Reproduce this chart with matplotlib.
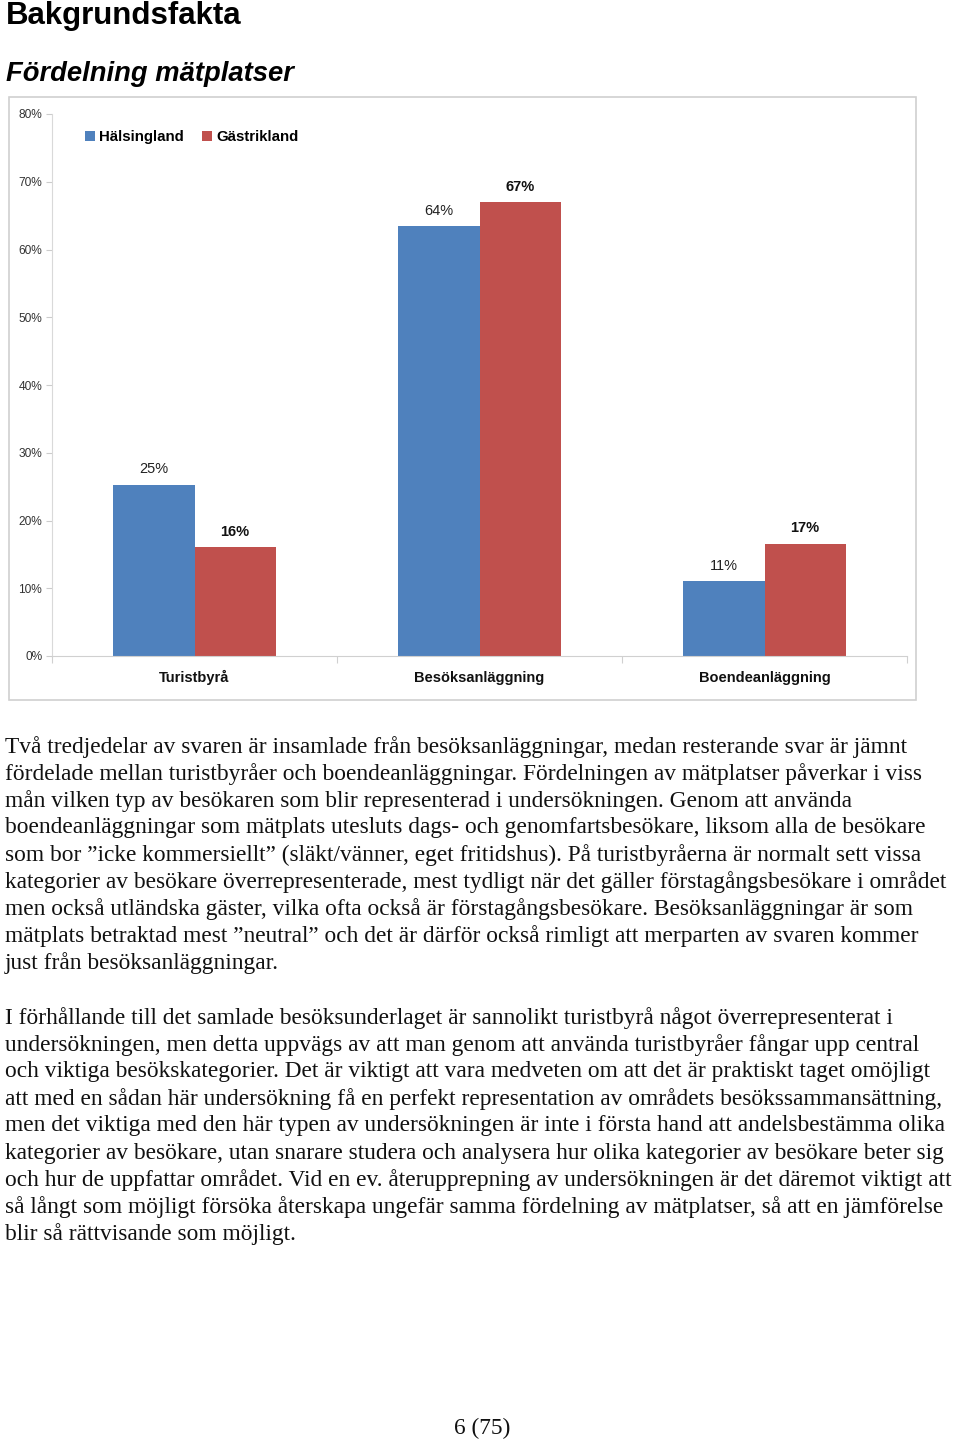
import numpy as np
import matplotlib
matplotlib.use("Agg")
import matplotlib.pyplot as plt
from matplotlib.patches import Rectangle

W, H = 960, 1442

# data
categories = ["Turistbyrå", "Besöksanläggning", "Boendeanläggning"]
series_names = ["Hälsingland", "Gästrikland"]
halsingland = [25.3, 63.5, 11.1]
gastrikland = [16.1, 67.0, 16.6]
yticks = [0, 10, 20, 30, 40, 50, 60, 70, 80]

blue = "#4f81bd"
red = "#c0504d"

para1 = [
    "Två tredjedelar av svaren är insamlade från besöksanläggningar, medan resterande svar är jämnt",
    "fördelade mellan turistbyråer och boendeanläggningar. Fördelningen av mätplatser påverkar i viss",
    "mån vilken typ av besökaren som blir representerad i undersökningen. Genom att använda",
    "boendeanläggningar som mätplats utesluts dags- och genomfartsbesökare, liksom alla de besökare",
    "som bor \u201dicke kommersiellt\u201d (släkt/vänner, eget fritidshus). På turistbyråerna är normalt sett vissa",
    "kategorier av besökare överrepresenterade, mest tydligt när det gäller förstagångsbesökare i området",
    "men också utländska gäster, vilka ofta också är förstagångsbesökare. Besöksanläggningar är som",
    "mätplats betraktad mest \u201dneutral\u201d och det är därför också rimligt att merparten av svaren kommer",
    "just från besöksanläggningar.",
]
para2 = [
    "I förhållande till det samlade besöksunderlaget är sannolikt turistbyrå något överrepresenterat i",
    "undersökningen, men detta uppvägs av att man genom att använda turistbyråer fångar upp central",
    "och viktiga besökskategorier. Det är viktigt att vara medveten om att det är praktiskt taget omöjligt",
    "att med en sådan här undersökning få en perfekt representation av områdets besökssammansättning,",
    "men det viktiga med den här typen av undersökningen är inte i första hand att andelsbestämma olika",
    "kategorier av besökare, utan snarare studera och analysera hur olika kategorier av besökare beter sig",
    "och hur de uppfattar området. Vid en ev. återupprepning av undersökningen är det däremot viktigt att",
    "så långt som möjligt försöka återskapa ungefär samma fördelning av mätplatser, så att en jämförelse",
    "blir så rättvisande som möjligt.",
]


def fx(px):
    return px / W


def fy(py):
    return 1 - py / H


fig = plt.figure(figsize=(W / 100, H / 100), dpi=100)
fig.patch.set_facecolor("white")

sans = "Liberation Sans"
serif = "Liberation Serif"

fig.text(fx(6), fy(24), "Bakgrundsfakta", fontsize=22.5, fontweight="bold",
         family=sans, va="baseline", ha="left")
fig.text(fx(6), fy(81), "Fördelning mätplatser", fontsize=19.7, fontweight="bold",
         style="italic", family=sans, va="baseline", ha="left")

# chart frame
fig.patches.append(Rectangle((fx(9), fy(700)), fx(916) - fx(9), fy(97) - fy(700),
                             transform=fig.transFigure, fill=False,
                             edgecolor="#d0d0d0", lw=1.2))

ax = fig.add_axes([fx(52), fy(656), fx(907) - fx(52), fy(114) - fy(656)])
x = np.arange(len(categories))
bw = 0.285
b1 = ax.bar(x - bw / 2, halsingland, bw, color=blue, label=series_names[0])
b2 = ax.bar(x + bw / 2, gastrikland, bw, color=red, label=series_names[1])

for rect, v in zip(b1, halsingland):
    ax.text(rect.get_x() + rect.get_width() / 2, v + 1.2, f"{v:.0f}%",
            ha="center", va="bottom", fontsize=10.5, family=sans, color="#222222")
for rect, v in zip(b2, gastrikland):
    ax.text(rect.get_x() + rect.get_width() / 2, v + 1.2, f"{v:.0f}%",
            ha="center", va="bottom", fontsize=10.5, family=sans,
            fontweight="bold", color="#111111")

ax.set_xlim(-0.5, len(categories) - 0.5)
ax.set_ylim(0, 80)
ax.set_yticks(yticks)
ax.set_yticklabels([f"{t}%" for t in yticks], fontsize=8.6, family=sans, color="#333333")
ax.tick_params(axis="y", length=4, color="#cccccc", pad=3)

ax.set_xticks(np.arange(len(categories) + 1) - 0.5)
ax.set_xticklabels([])
ax.tick_params(axis="x", length=5, color="#d0d0d0", direction="out")
for i, c in enumerate(categories):
    ax.text(i, -3.2, c, ha="center", va="center", fontsize=10.5,
            fontweight="bold", family=sans, color="#111111")

for s in ["top", "right"]:
    ax.spines[s].set_visible(False)
ax.spines["left"].set_color("#d9d9d9")
ax.spines["bottom"].set_color("#d0d0d0")

leg = ax.legend(loc="center left", bbox_to_anchor=((85 - 52) / 855, (656 - 137) / 542),
                ncol=2, frameon=False, borderpad=0, borderaxespad=0,
                prop={"family": sans, "weight": "bold", "size": 10.8},
                handlelength=0.65, handleheight=0.65, handletextpad=0.3, columnspacing=1.2)

# body text
y0 = 747
for i, line in enumerate(para1):
    fig.text(fx(5), fy(y0 + i * 27), line, fontsize=16.8, family=serif,
             va="center", ha="left", color="#111111")
y0 = 1018
for i, line in enumerate(para2):
    fig.text(fx(5), fy(y0 + i * 27), line, fontsize=16.8, family=serif,
             va="center", ha="left", color="#111111")

fig.text(fx(482), fy(1428), "6 (75)", fontsize=16.8, family=serif,
         va="center", ha="center", color="#111111")

fig.savefig("out.png", dpi=100)
